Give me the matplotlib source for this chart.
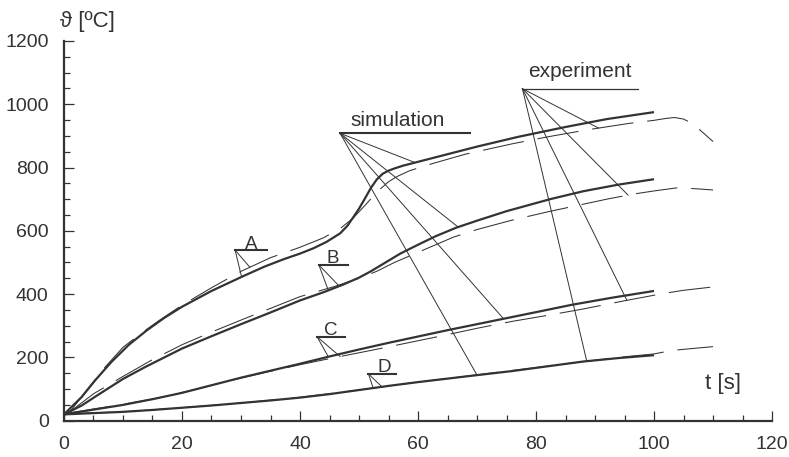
import numpy as np
import matplotlib
matplotlib.use("Agg")
import matplotlib.pyplot as plt
from matplotlib.ticker import MultipleLocator

plt.rcParams['font.family'] = ['Liberation Sans', 'DejaVu Sans']
plt.rcParams['lines.scale_dashes'] = False

INK = '#333333'

# simulation (solid)
t_sim_A = [0, 3, 5.3, 8, 11, 14, 17, 20, 25, 30.4, 34, 37.2, 40, 42.3, 44.5, 46.8, 48, 49, 50, 51, 52, 53, 54, 55, 56, 57.5, 60, 65, 70, 77, 85, 92, 100]
v_sim_A = [20, 75, 128, 185, 240, 285, 325, 360, 410, 457, 487, 510, 528, 545, 565, 592, 615, 642, 670, 702, 735, 762, 780, 790, 797, 806, 818, 842, 866, 897, 928, 953, 975]
t_sim_B = [0, 3, 5.3, 10, 13.8, 20, 25, 30, 35, 40, 44, 47.3, 50, 52, 54.5, 57, 60, 63, 66.5, 70, 75, 82.4, 88, 94, 100]
v_sim_B = [20, 48, 76, 132, 170, 228, 267, 305, 342, 380, 406, 430, 452, 472, 500, 528, 556, 583, 610, 632, 662, 700, 725, 746, 763]
t_sim_C = [0, 5, 10, 15, 20, 25, 30, 35, 40, 45, 50, 55, 60, 65, 70, 75, 80, 86, 93, 100]
v_sim_C = [20, 35, 50, 68, 88, 112, 136, 158, 180, 203, 225, 246, 266, 286, 305, 324, 343, 366, 389, 410]
t_sim_D = [0, 5, 10, 15, 20, 25, 30, 35, 40, 45, 50, 55, 60, 65, 70, 76, 82, 88, 94, 100]
v_sim_D = [20, 24, 28, 34, 41, 48, 56, 64, 73, 84, 97, 110, 122, 133, 144, 157, 172, 187, 198, 207]

# experiment (dashed)
t_exp_A = [1, 4, 7, 10, 13, 16, 20, 25, 30, 35, 40, 44, 47, 49, 51, 53, 55, 56.5, 58.6, 62, 68, 76, 82, 89, 96, 100, 102, 103.5, 105, 106.4, 108, 110]
v_exp_A = [28, 100, 170, 232, 275, 315, 365, 420, 472, 515, 548, 578, 610, 640, 680, 722, 755, 772, 790, 810, 842, 875, 897, 920, 940, 949, 955, 958, 953, 940, 915, 882]
t_exp_B = [1, 5, 10, 15, 20, 25, 30, 35, 40, 46, 50, 53, 56, 60, 63, 66, 70, 76, 82, 88, 92, 96.5, 100, 104, 107, 110]
v_exp_B = [28, 85, 140, 193, 240, 280, 318, 355, 392, 425, 450, 472, 500, 532, 556, 580, 604, 634, 660, 684, 700, 716, 726, 736, 733, 729]
t_exp_C = [1, 5, 10, 16, 22, 28, 34, 40, 46, 52, 58, 64, 70, 76, 82, 88, 95, 101.6, 105, 109.2, 110]
v_exp_C = [25, 37, 52, 72, 98, 126, 152, 177, 200, 222, 245, 268, 292, 314, 333, 353, 379, 402, 412, 421, 423]
t_exp_D = [1, 10, 20, 30, 40, 50, 60, 70, 80, 88.6, 95, 100, 103, 107, 110]
v_exp_D = [22, 28, 41, 56, 74, 97, 122, 145, 168, 188, 202, 211, 222, 229, 234]

curve_names = ['A', 'B', 'C', 'D']
sim = {'A': (t_sim_A, v_sim_A), 'B': (t_sim_B, v_sim_B), 'C': (t_sim_C, v_sim_C), 'D': (t_sim_D, v_sim_D)}
exp = {'A': (t_exp_A, v_exp_A), 'B': (t_exp_B, v_exp_B), 'C': (t_exp_C, v_exp_C), 'D': (t_exp_D, v_exp_D)}

# letter labels: underline start/end t, underline level, text t, leader targets on sim / exp
lab_t0 = {'A': 29.0, 'B': 43.2, 'C': 42.9, 'D': 51.6}
lab_t1 = {'A': 34.4, 'B': 48.1, 'C': 47.7, 'D': 56.2}
lab_v = {'A': 539, 'B': 492, 'C': 265, 'D': 148}
lab_tt = {'A': 31.7, 'B': 45.6, 'C': 45.2, 'D': 54.2}
lab_hit_sim = {'A': 30.1, 'B': 44.8, 'C': 44.8, 'D': 52.4}
lab_hit_exp = {'A': 31.5, 'B': 46.5, 'C': 46.8, 'D': 53.9}

# leader hits for the "simulation" and "experiment" notes
sim_hits = {'A': 59.5, 'B': 66.8, 'C': 74.5, 'D': 70.0}
exp_hits = {'A': 90.6, 'B': 95.6, 'C': 95.4, 'D': 88.6}

fig = plt.figure(figsize=(7.89, 4.57), dpi=100)
ax = fig.add_axes([0.0811, 0.0794, 0.8974, 0.8311])

for k in curve_names:
    ax.plot(*sim[k], color=INK, lw=1.6, solid_capstyle='butt', solid_joinstyle='round')
    line, = ax.plot(*exp[k], color=INK, lw=0.75)
    line.set_dashes((30, 10))

def on_curve(series, t):
    return np.interp(t, series[0], series[1])

# letter labels
for k in curve_names:
    ax.plot([lab_t0[k], lab_t1[k]], [lab_v[k], lab_v[k]], color=INK, lw=1.5)
    ax.plot([lab_t0[k], lab_hit_sim[k]], [lab_v[k], on_curve(sim[k], lab_hit_sim[k])], color=INK, lw=0.7)
    ax.plot([lab_t0[k], lab_hit_exp[k]], [lab_v[k], on_curve(exp[k], lab_hit_exp[k])], color=INK, lw=0.7)
    ax.text(lab_tt[k], lab_v[k] + 5, k, ha='center', va='baseline', fontsize=13.5, color=INK)

# simulation note
s0 = (46.8, 908)
ax.plot([s0[0], 68.8], [s0[1], s0[1]], color=INK, lw=1.5)
for k in curve_names:
    ax.plot([s0[0], sim_hits[k]], [s0[1], on_curve(sim[k], sim_hits[k])], color=INK, lw=0.7)
ax.text(56.5, 931, 'simulation', ha='center', va='baseline', fontsize=15, color=INK)

# experiment note
e0 = (77.7, 1049)
ax.plot([e0[0], 97.2], [e0[1], e0[1]], color=INK, lw=0.9)
for k in curve_names:
    ax.plot([e0[0], exp_hits[k]], [e0[1], on_curve(exp[k], exp_hits[k])], color=INK, lw=0.7)
ax.text(87.4, 1085, 'experiment', ha='center', va='baseline', fontsize=15, color=INK)

ax.set_xlim(0, 120)
ax.set_ylim(0, 1200)
ax.xaxis.set_major_locator(MultipleLocator(20))
ax.xaxis.set_minor_locator(MultipleLocator(5))
ax.yaxis.set_major_locator(MultipleLocator(200))
ax.yaxis.set_minor_locator(MultipleLocator(50))
for side in ['top', 'right']:
    ax.spines[side].set_visible(False)
for side in ['left', 'bottom']:
    ax.spines[side].set_linewidth(1.6)
    ax.spines[side].set_color(INK)
ax.tick_params(which='major', direction='in', length=7.5, width=0.9, color=INK,
               labelsize=14, labelcolor=INK, pad=11)
ax.tick_params(which='minor', direction='in', length=4, width=0.9, color=INK)

ax.text(3.9, 1262, 'ϑ [ºC]', ha='center', va='center', fontsize=16, color=INK, clip_on=False)
ax.text(111.7, 117, 't [s]', ha='center', va='center', fontsize=16, color=INK)

fig.savefig('out.png', dpi=100)
